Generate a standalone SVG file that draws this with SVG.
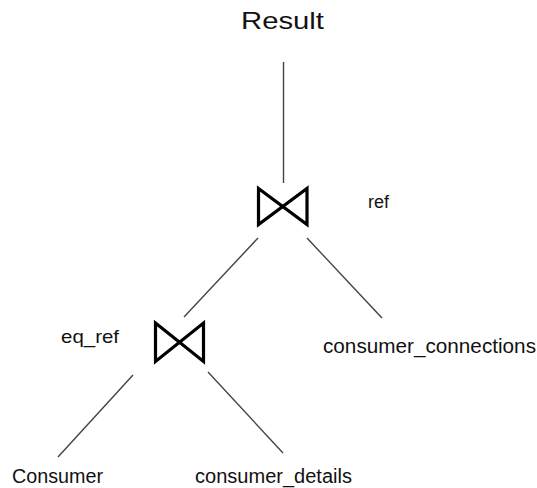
<svg xmlns="http://www.w3.org/2000/svg" width="537" height="488" viewBox="0 0 537 488">
<style>
.lbl{font-family:"Liberation Sans",Arial,sans-serif;fill:#111}
.edge{stroke:#444;stroke-width:1.4;fill:none}
.join{fill:none;stroke:#000;stroke-width:3.2;stroke-linejoin:miter;stroke-miterlimit:10}
</style>
<rect width="537" height="488" fill="#fff"/>
<g id="connectors">
<line class="edge" x1="283.5" y1="62" x2="283.5" y2="183"/>
<line class="edge" x1="258" y1="238" x2="184" y2="317"/>
<line class="edge" x1="307" y1="238" x2="382" y2="318"/>
<line class="edge" x1="133" y1="375" x2="58" y2="457"/>
<line class="edge" x1="208" y1="372" x2="283" y2="453"/>
</g>
<g id="result"><text class="lbl" x="241" y="29" font-size="24" textLength="83" lengthAdjust="spacingAndGlyphs">Result</text></g>
<g id="join-ref">
<polygon class="join" points="258.5,188.5 307,224.5 307,188.5 258.5,224.5"/>
<text class="lbl" x="368" y="208" font-size="18" textLength="21" lengthAdjust="spacingAndGlyphs">ref</text>
</g>
<g id="join-eq_ref">
<polygon class="join" points="155.5,323 203.5,361.5 203.5,323 155.5,361.5"/>
<text class="lbl" x="61" y="343" font-size="19" textLength="58" lengthAdjust="spacingAndGlyphs">eq_ref</text>
</g>
<g id="consumer_connections"><text class="lbl" x="323" y="353" font-size="20" textLength="213" lengthAdjust="spacingAndGlyphs">consumer_connections</text></g>
<g id="consumer"><text class="lbl" x="12" y="483" font-size="20" textLength="91" lengthAdjust="spacingAndGlyphs">Consumer</text></g>
<g id="consumer_details"><text class="lbl" x="195" y="483" font-size="20" textLength="157" lengthAdjust="spacingAndGlyphs">consumer_details</text></g>
</svg>
